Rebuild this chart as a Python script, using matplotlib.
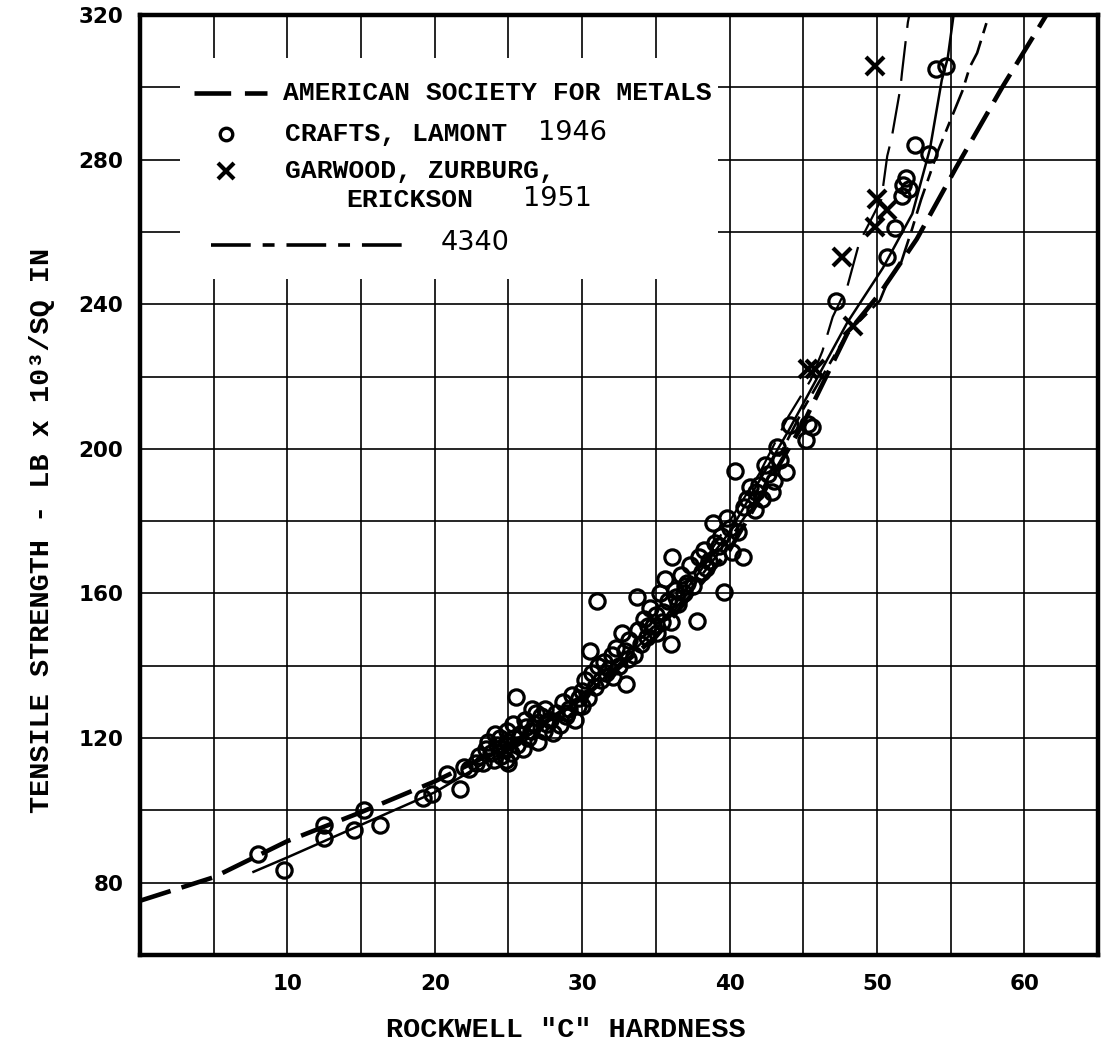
import matplotlib
matplotlib.use("Agg")
import matplotlib.pyplot as plt
from matplotlib.patches import Rectangle
from matplotlib.lines import Line2D

# ---------------- data ----------------
x_ticks_labeled = [10, 20, 30, 40, 50, 60]
y_ticks_labeled = [80, 120, 160, 200, 240, 280, 320]

# American Society for Metals curve (heavy dashed)
asm_x = [0, 5, 10, 15, 20, 25, 30, 35, 40, 45, 48, 50.2, 52.7, 55.4, 58.5, 61.5]
asm_y = [75, 81.5, 91.5, 99.5, 108, 118, 131, 148, 172, 207, 232, 243, 258, 278, 300, 320]

# fit through Crafts & Lamont data (solid)
fit_x = [7.7, 10, 15, 20, 25, 30, 35, 40, 44, 48, 50.4, 52.4, 53.6, 54.4, 54.8, 55.2]
fit_y = [83, 87, 96, 105, 117, 131, 150, 177, 205, 235, 250, 265, 283, 302, 308, 320]

# fit through Garwood et al. data (thin long dash)
gzr_x = [38, 40, 42, 44, 45.5, 46.3, 47, 48, 48.8, 50.3, 50.7, 51.0, 51.6, 51.7, 52.1, 52.2]
gzr_y = [167, 180, 193, 209, 219, 227, 236.5, 245, 257, 269, 281, 286, 300, 304, 318, 320]

# 4340 curve (dash-dot)
s4340_x = [36, 40, 42, 45, 48, 50.2, 50.7, 51.6, 52.4, 53, 53.6, 54.1, 54.8, 55.8, 56.3, 56.8, 57.6]
s4340_y = [154, 175, 187, 211, 232, 241, 246, 251, 261, 269, 276, 282, 289, 299, 305.6, 309.5, 320]

# Crafts, Lamont 1946 (open circles)
crafts_x = [8.0, 9.8, 12.5, 12.5, 14.5, 15.2, 16.3, 19.2, 19.8, 20.8, 21.7, 22.0, 22.3, 22.8,
            23.0, 23.3, 23.5, 23.8, 24.0, 24.2, 24.4, 24.5, 24.7, 24.9, 25.0, 25.0, 25.2, 25.3,
            25.5, 25.6, 25.8, 26.0, 26.1, 26.3, 26.5, 26.6, 26.8, 27.0, 27.2, 27.4, 27.5, 27.8,
            28.0, 28.2, 28.5, 28.7, 28.9, 29.1, 29.3, 29.5, 29.7, 30.0, 30.0, 30.2, 30.4, 30.5,
            30.7, 30.9, 31.0, 31.1, 31.3, 31.5, 31.8, 32.0, 32.1, 32.3, 32.5, 32.7, 32.9, 33.0,
            33.2, 33.5, 33.7, 33.8, 34.0, 34.2, 34.4, 34.6, 34.8, 35.0, 35.1, 35.3, 35.5, 35.6,
            35.8, 36.0, 36.0, 36.1, 36.3, 36.5, 36.7, 36.9, 37.1, 37.3, 37.5, 37.8, 37.9, 38.1,
            38.3, 38.6, 38.9, 39.0, 39.2, 39.4, 39.6, 39.8, 40.0, 40.2, 40.4, 40.6, 40.9, 41.0,
            41.2, 41.4, 41.7, 42.0, 42.2, 42.4, 42.6, 42.9, 43.2, 43.4, 43.8, 44.1, 45.2, 45.3,
            45.6, 47.2, 50.7, 51.2, 51.7, 51.8, 52.0, 52.2, 52.6, 53.5, 54.0, 54.7,
            23.6, 24.1, 24.8, 25.4, 26.2, 26.9, 27.6, 29.0, 29.8, 31.6, 33.1, 34.5, 35.4, 36.4,
            37.0, 38.4, 39.3, 41.8, 43.0]
crafts_y = [88, 83.5, 96, 92.5, 94.5, 100, 96, 103.5, 104.5, 110, 106, 112, 111.5, 113,
            115, 113, 117, 116, 114, 118, 120, 115, 117, 122, 113, 119, 116, 124,
            131.5, 118, 121, 117, 125, 120, 122, 128, 124, 119, 126, 122, 128, 125,
            121.5, 127, 123.5, 130, 126, 128, 132, 125, 129, 133, 129, 136, 131, 144,
            138, 134, 158, 140, 136, 141, 139, 143, 137, 145, 140, 149, 144, 135,
            147, 143, 159, 150, 146, 153, 148, 156, 151, 154, 149, 160, 155, 164,
            158, 146, 152, 170, 161, 157, 165, 160, 163, 168, 162, 152.5, 170, 166,
            172, 169, 179.5, 174, 170, 176, 160.5, 181, 178, 171.5, 194, 177, 170, 184,
            186, 189.5, 183, 190, 186, 195.5, 193, 188, 200.5, 197, 193.5, 206.5, 202.5, 207,
            206, 241, 253, 261, 270, 273, 275, 272, 284, 281.5, 305, 306,
            119, 121, 114, 120, 123, 127, 124, 127, 131, 138, 142, 151, 152, 159,
            162, 167, 173, 188, 191]

# Garwood, Zurburg, Erickson 1951 (crosses)
garwood_x = [45.3, 45.8, 47.6, 48.4, 49.9, 50.0, 50.7, 49.9]
garwood_y = [222, 222, 253, 234, 261.5, 269, 266, 306]

# ---------------- figure ----------------
mono = ["Liberation Mono", "DejaVu Sans Mono"]
fig = plt.figure(figsize=(11.04, 10.52), dpi=100)
ax = fig.add_axes([140 / 1104, (1052 - 955) / 1052, (1098 - 140) / 1104, (955 - 15) / 1052])
ax.set_xlim(0, 65)
ax.set_ylim(60, 320)

xt = list(range(0, 66, 5))
ax.set_xticks(xt)
ax.set_xticklabels([str(v) if v in x_ticks_labeled else "" for v in xt])
yt = list(range(60, 321, 20))
ax.set_yticks(yt)
ax.set_yticklabels([str(v) if v in y_ticks_labeled else "" for v in yt])
ax.tick_params(length=0, labelsize=15.5)
for lbl in ax.get_xticklabels() + ax.get_yticklabels():
    lbl.set_fontweight("bold")
ax.tick_params(axis="x", pad=14)
ax.tick_params(axis="y", pad=12)
ax.grid(True, color="black", linewidth=1.2, zorder=0)
ax.set_axisbelow(True)
for s in ax.spines.values():
    s.set_linewidth(3.2)

# legend background
ax.add_patch(Rectangle((2.7, 247), 36.5, 61, facecolor="white", edgecolor="none", zorder=1))

# curves
ax.plot(asm_x, asm_y, color="black", lw=3.3, dashes=(7, 2.5), zorder=3)
ax.plot(fit_x, fit_y, color="black", lw=1.8, zorder=3)
ax.plot(gzr_x, gzr_y, color="black", lw=1.6, dashes=(18, 6), zorder=3)
ax.plot(s4340_x, s4340_y, color="black", lw=1.9, dashes=(10, 3, 4, 3), zorder=3)

ax.plot(crafts_x, crafts_y, linestyle="none", marker="o", markersize=11,
        markerfacecolor="none", markeredgecolor="black", markeredgewidth=2.3, zorder=4)
ax.plot(garwood_x, garwood_y, linestyle="none", marker="x", markersize=13,
        markeredgecolor="black", markeredgewidth=3.0, zorder=4)

# legend (drawn manually)
fs_leg = 19
ax.add_line(Line2D([3.66, 8.6], [298.4, 298.4], color="black", lw=3.3, dashes=(8, 3), zorder=5))
ax.text(9.7, 298.4, "AMERICAN SOCIETY FOR METALS", family=mono, weight="bold", fontsize=fs_leg,
        va="center", ha="left", zorder=5)
ax.plot([5.85], [287], linestyle="none", marker="o", markersize=9, markerfacecolor="none",
        markeredgecolor="black", markeredgewidth=2.4, zorder=5)
ax.text(9.85, 287, "CRAFTS, LAMONT", family=mono, weight="bold", fontsize=fs_leg,
        va="center", ha="left", zorder=5)
ax.text(27, 287.5, "1946", fontsize=19.5, va="center", ha="left", zorder=5)
ax.plot([5.85], [276.9], linestyle="none", marker="x", markersize=11, markeredgecolor="black",
        markeredgewidth=3.0, zorder=5)
ax.text(9.85, 276.9, "GARWOOD, ZURBURG,", family=mono, weight="bold", fontsize=fs_leg,
        va="center", ha="left", zorder=5)
ax.text(14.0, 268.7, "ERICKSON", family=mono, weight="bold", fontsize=fs_leg,
        va="center", ha="left", zorder=5)
ax.text(26, 269.2, "1951", fontsize=19.5, va="center", ha="left", zorder=5)
ax.add_line(Line2D([4.8, 18.35], [256.4, 256.4], color="black", lw=2.6, dashes=(11, 3.3, 3.3, 3.3), zorder=5))
ax.text(20.4, 257, "4340", fontsize=19.5, va="center", ha="left", zorder=5)

ax.set_xlabel('ROCKWELL "C" HARDNESS', family=mono, weight="bold", fontsize=20.5)
ax.xaxis.set_label_coords(0.445, -0.066)
ax.set_ylabel("TENSILE STRENGTH - LB x 10³/SQ IN", family=mono, weight="bold", fontsize=20.5)
ax.yaxis.set_label_coords(-0.089, 0.452)

fig.savefig("out.png", dpi=100, facecolor="white")
